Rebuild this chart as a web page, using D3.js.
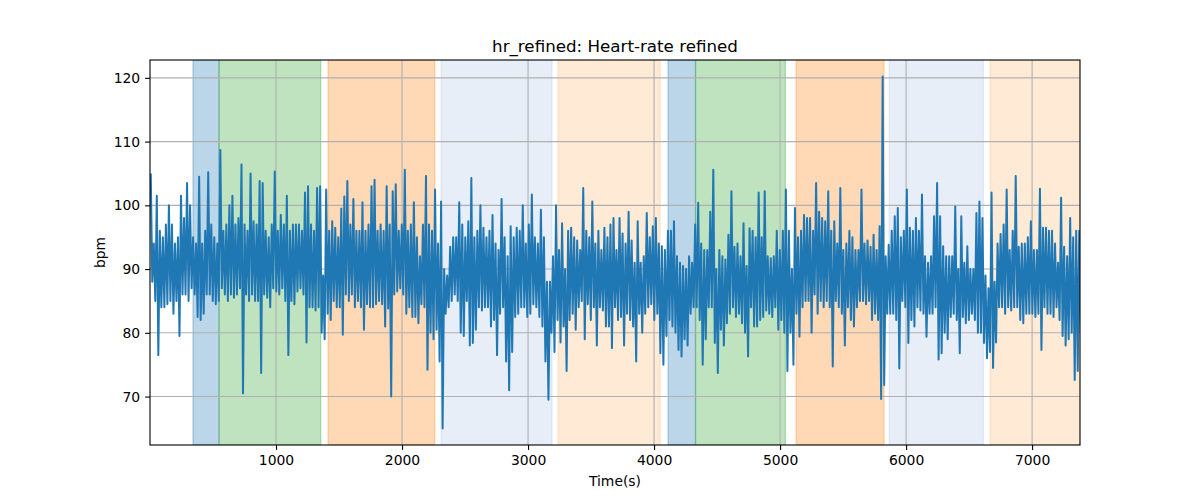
<!DOCTYPE html>
<html><head><meta charset="utf-8">
<script src="https://cdn.jsdelivr.net/npm/d3@7"></script>
<style>body{margin:0;background:#fff} svg{display:block} text{font-family:"DejaVu Sans",sans-serif;fill:#000}</style>
</head><body><svg id="c" width="1200" height="500"></svg>
<script>
// Each bin covers binSeconds; binHigh/binLow are the max/min in that bin
const binSeconds = 24;
const binHigh = [
105,94,101.5,96,95,97,100,97,94,95,101.5,98,103.5,100,95,94,104.5,94,96,105.2,
97,95,94,108.7,96,97,100,101.5,97,98,106.4,97,96,105,97.5,97,103.8,103.5,96,95,
97,105.3,96,98.5,97,101.5,96,97,97,97,96,102,103,97,96,102.7,103,89,102.5,96,
97.5,96.5,95,99.5,101.4,103.8,97,101,96,96,100.5,96,97,103,104,96,97,96,103,97,
102.2,103.3,96,97,105.6,96,97,100.5,95,92,97,104.6,97,96,102.5,94,100.6,90,89,93.5,
95,95,100.5,97,95,97.5,104.3,95,96,100,96.5,95,96,98.5,94,93,101,95,92,96.7,
95,96.5,96,100,94,97,101.7,95,94,99.3,95,88,88,92,100,93,97.2,90,96,96.5,
95,94.5,93,102.7,96,95,100.6,94,96,93,96.5,95,97,98,93,98,95.6,94,99,94.5,
91,97.5,91,92,98.8,95,96.7,98,94,93.6,93,96,96,97.5,92,91,90.5,90,92,91,
97,100.4,94,93,93,99,105.6,90,93,92,91.5,95.4,102.2,93.5,94,92,97.2,90.5,96.4,96,
95,102,95,102.2,92,91.7,92,96,93,96,102.5,96,90,99.6,95,96,98.5,98,98,96,
103.5,99,98,97.5,102.2,96,97.5,94,102.7,93,94,96,95,93,93,102.5,94,94.5,93.5,95.4,
93,96.7,120.2,92,93.8,96,98.3,99.6,95,96,102.5,96.5,96,98,96,101.7,92,91,92,98.3,
103.5,98.3,93.6,92,92,92,99.8,90,98.3,91,93.6,90,90,98.8,100.6,98,89,87,102,88,
94,95.5,97,102.5,93,96,104.6,93.5,94,94,95,97.5,93,93,102.6,96.5,96.5,96,96,94,
91,101.2,93.5,92,98,95,96,96
];
const binLow = [
88,85,76.5,84,84,84.5,85,83,85,79.5,86,86,85,87,86,82.5,82,83,86,86,
85,84.5,85,87,86,85,86,85.5,86,87,70.5,86,85,86,85,85,73.7,86,85.5,84,
87,86.5,86,87,85,76.5,85,84.5,86.5,87,86,78.5,84,84,83.5,84,80,79,83,82,
85,84,84,79.7,86,85,86,84,85,84,80.5,84.5,84,84,84.5,85,84.5,81,83.8,70,
86,86.5,87,86,83,84,82.5,82.5,81.5,84.5,84,74.2,80,79,80.5,75.5,65,83,84,85,
86,85,80,79.5,85,78,78.4,80.5,84,83.5,84,84,81,82,76.5,83,84,75.5,71,77,
82.5,83,84,84,82.5,83,84.5,84,82.5,81,75.5,69.5,80,77,82,78.5,81,74,82,83,
80.5,84,85,79,84.5,82,84,78,84,83.5,81,81,77.6,84,82,82.5,78,83,82,81,
75.5,83,80,83,84,84.5,82,83,76.8,75,79.5,82,81,80,77.3,76.3,79,78,83,84,
84,82,75,79,84,84,78.4,73.7,80.5,78,81.5,83,84,82.5,83,81.5,80,76.3,84,81,
81,82,82.5,83.5,83,82.5,84,80.5,82,80,74,80,75,83,79.4,84,85,85,80,86,
83,85,84,85,84,74.7,85,84,83,78,84,82,81,84,85,85,84.5,85,82,83,
82,69.6,71.8,83,83,83,82,74.4,85,84,78.4,82,81,84,83.5,83,79.4,83,83,84,
75.8,76.8,80,79,82.5,83,82,76.8,82.5,81.5,82,83,82,80,80,78.4,76,77,74.5,78.5,
84,84,83,84,83.5,84,84,82,81.5,83,83,83,82.5,83,77.3,84,83,83,82.5,84,
82,79.5,78,79,80,72.6,74,80
];
const spanStart = [341, 548, 1413, 2310, 3238, 4111, 4329, 5127, 5865, 6667];
const spanEnd   = [548, 1355, 2260, 3190, 4048, 4329, 5042, 5825, 6613, 7380];
const spanPhase = ["p1","p2","p3","p4","p5","p1","p2","p3","p4","p5"];
const xTicks = [1000, 2000, 3000, 4000, 5000, 6000, 7000];
const yTicks = [70, 80, 90, 100, 110, 120];
const xDomain = [0, 7380];
const yDomain = [62.4, 122.8];

const phaseColor = {p1:"#1f77b4", p2:"#2ca02c", p3:"#ff7f0e", p4:"#aec7e8", p5:"#ffbb78"};

const svg = d3.select("#c");
const m = {l:150, r:1080, t:60, b:445};
const x = d3.scaleLinear().domain(xDomain).range([m.l, m.r]);
const y = d3.scaleLinear().domain(yDomain).range([m.b, m.t]);

svg.append("defs").append("clipPath").attr("id","clip")
  .append("rect").attr("x",m.l).attr("y",m.t).attr("width",m.r-m.l).attr("height",m.b-m.t);

// spans
const spans = spanStart.map((s,i)=>({s, e:spanEnd[i], p:spanPhase[i]}));
svg.append("g").attr("clip-path","url(#clip)").selectAll("rect").data(spans).join("rect")
  .attr("x", d=>x(d.s)).attr("width", d=>x(d.e)-x(d.s))
  .attr("y", m.t).attr("height", m.b-m.t)
  .attr("fill", d=>phaseColor[d.p]).attr("fill-opacity",0.3)
  .attr("stroke", d=>phaseColor[d.p]).attr("stroke-opacity",0.3).attr("stroke-width",1.3);

// grid
const grid = svg.append("g");
grid.selectAll("line.gx").data(xTicks).join("line")
  .attr("x1",d=>x(d)).attr("x2",d=>x(d)).attr("y1",m.t).attr("y2",m.b)
  .attr("stroke","#b0b0b0").attr("stroke-width",1.1);
grid.selectAll("line.gy").data(yTicks).join("line")
  .attr("y1",d=>y(d)).attr("y2",d=>y(d)).attr("x1",m.l).attr("x2",m.r)
  .attr("stroke","#b0b0b0").attr("stroke-width",1.1);

// series (min/max per bin)
const pts = [];
binHigh.forEach((h,i)=>{
  pts.push([i*binSeconds + binSeconds*0.25, h]);
  pts.push([i*binSeconds + binSeconds*0.75, binLow[i]]);
});
const line = d3.line().x(d=>x(d[0])).y(d=>y(d[1]));
svg.append("path").attr("clip-path","url(#clip)").datum(pts)
  .attr("d", line).attr("fill","none").attr("stroke","#1f77b4")
  .attr("stroke-width",2).attr("stroke-linejoin","round");

// axes
const xa = svg.append("g").attr("transform",`translate(0,${m.b})`)
  .call(d3.axisBottom(x).tickValues(xTicks).tickSize(4.9).tickPadding(4.9).tickFormat(d3.format("d")));
const ya = svg.append("g").attr("transform",`translate(${m.l},0)`)
  .call(d3.axisLeft(y).tickValues(yTicks).tickSize(4.9).tickPadding(4.9).tickFormat(d3.format("d")));
[xa,ya].forEach(a=>{
  a.select(".domain").remove();
  a.selectAll("line").attr("stroke","#000").attr("stroke-width",1.1);
  a.selectAll("text").attr("font-size","13.9px").attr("font-family","DejaVu Sans").attr("fill","#000");
});

// frame
svg.append("rect").attr("x",m.l).attr("y",m.t).attr("width",m.r-m.l).attr("height",m.b-m.t)
  .attr("fill","none").attr("stroke","#000").attr("stroke-width",1.1);

// labels
svg.append("text").attr("x",(m.l+m.r)/2).attr("y",51.5).attr("text-anchor","middle")
  .attr("font-size","16.7px").text("hr_refined: Heart-rate refined");
svg.append("text").attr("x",(m.l+m.r)/2).attr("y",486).attr("text-anchor","middle")
  .attr("font-size","13.9px").text("Time(s)");
svg.append("text").attr("transform",`translate(105,${(m.t+m.b)/2}) rotate(-90)`)
  .attr("text-anchor","middle").attr("font-size","13.9px").text("bpm");
</script></body></html>
